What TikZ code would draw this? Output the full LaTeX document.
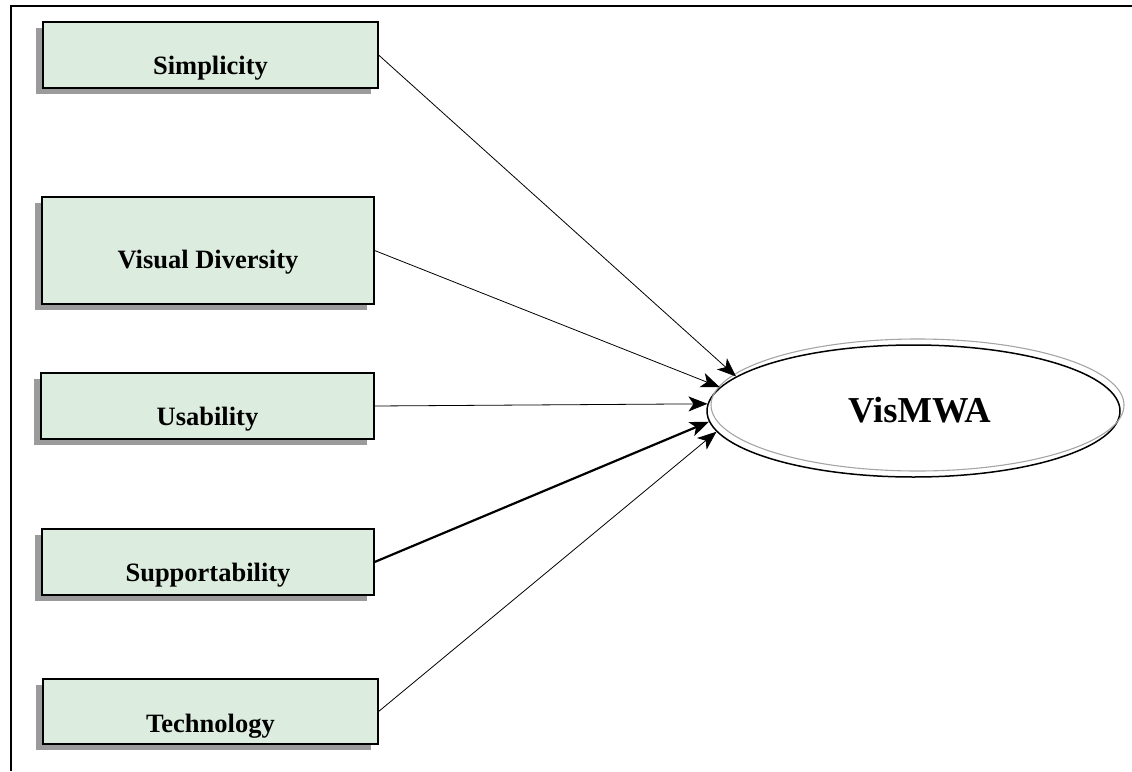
\documentclass[tikz,border=0pt]{standalone}
\usepackage{fontspec}
\setmainfont{Liberation Serif}
\usetikzlibrary{arrows.meta,shadows,shapes.geometric}
\definecolor{boxfill}{RGB}{220,236,222}
\definecolor{shadowgray}{RGB}{155,155,155}
\definecolor{ringgray}{RGB}{165,165,165}
\begin{document}
\begin{tikzpicture}[x=1pt,y=-1pt,
  factor/.style={draw=black,line width=1.2pt,fill=boxfill,rectangle,inner sep=0pt,
    drop shadow={shadow xshift=-7pt,shadow yshift=-6pt,fill=shadowgray,opacity=1}},
  factortext/.style={anchor=base,font=\fontsize{26.5}{30}\selectfont\bfseries,inner sep=0pt},
  link/.style={line width=0.8pt,-{Stealth[length=19pt,width=15pt,inset=5pt]}},
  thicklink/.style={link,line width=2.2pt}]
\useasboundingbox (0,0) rectangle (1132,771);

% partial frame
\draw[line width=2pt] (11,771) -- (11,6) -- (1132,6);

% factor boxes
\node[factor,minimum width=335pt,minimum height=66pt] (simp) at (210.5,55) {};
\node[factor,minimum width=332pt,minimum height=107pt] (vdiv) at (208,250.5) {};
\node[factor,minimum width=333pt,minimum height=66pt] (usab) at (207.5,406) {};
\node[factor,minimum width=332pt,minimum height=66pt] (supp) at (208,562) {};
\node[factor,minimum width=335pt,minimum height=65pt] (tech) at (210.5,711.5) {};

\node[factortext] (simpt) at ([yshift=-19pt]simp.center) {Simplicity};
\node[factortext] (vdivt) at ([yshift=-17.5pt]vdiv.center) {Visual Diversity};
\node[factortext] (usabt) at ([yshift=-19pt]usab.center) {Usability};
\node[factortext] (suppt) at ([yshift=-19pt]supp.center) {Supportability};
\node[factortext] (techt) at ([yshift=-20.5pt]tech.center) {Technology};

% target construct: double ring
\node[draw=black,line width=1.5pt,ellipse,minimum width=413pt,minimum height=132pt,inner sep=0pt]
  (vis) at (913.5,411) {};
\draw[ringgray,line width=1.1pt] ([xshift=4pt,yshift=6pt]vis.center)
  ellipse [x radius=206.5pt,y radius=66pt];
\node[anchor=base,font=\fontsize{36.5}{40}\selectfont\bfseries,inner sep=0pt] (vist)
  at (919.5,422) {VisMWA};

% paths
\draw[link] (simp.east) -- (vis.169.7);
\draw[link] (vdiv.east) -- (vis.173.6);
\draw[link] (usab.east) -- (vis.178.6);
\draw[thicklink] (supp.east) -- (vis.183.4);
\draw[link] (tech.east) -- (vis.186.8);
\end{tikzpicture}
\end{document}
